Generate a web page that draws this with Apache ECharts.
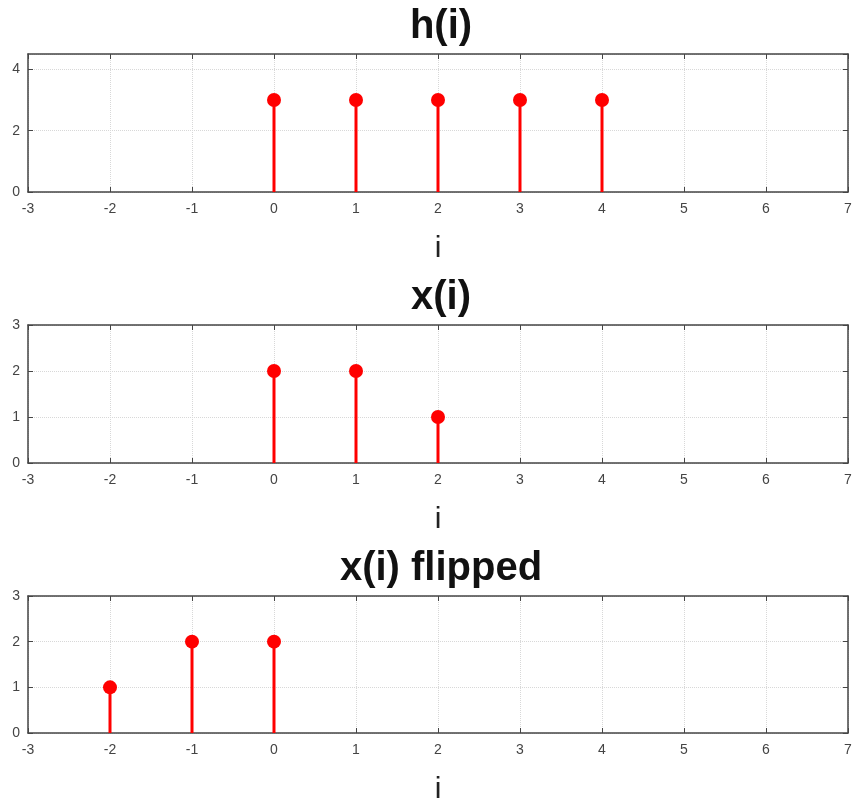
<!DOCTYPE html>
<html>
<head>
<meta charset="utf-8">
<script src="https://cdn.jsdelivr.net/npm/echarts@6/dist/echarts.min.js"></script>
<style>
body{margin:0;background:#fff;}
#main{width:854px;height:800px;}
</style>
</head>
<body>
<div id="main"></div>
<script>
// data
var titles = ['h(i)', 'x(i)', 'x(i) flipped'];
var hIdx = [0, 1, 2, 3, 4];
var hVal = [3, 3, 3, 3, 3];
var xIdx = [0, 1, 2];
var xVal = [2, 2, 1];
var fIdx = [-2, -1, 0];
var fVal = [1, 2, 2];
var xMin = -3, xMax = 7;
var yMax = [4.5, 3, 3];
var yStep = [2, 1, 1];

var chart = echarts.init(document.getElementById('main'));
var FONT = '"Liberation Sans", Arial, sans-serif';
var frame = '#454545';
var gridTops = [54, 325, 596];
var gridH = [138, 138, 137];

function pairs(a, b) {
  return a.map(function (v, i) { return [v, b[i]]; });
}
var sets = [pairs(hIdx, hVal), pairs(xIdx, xVal), pairs(fIdx, fVal)];

var grid = [], xAxis = [], yAxis = [], series = [], title = [];
for (var k = 0; k < 3; k++) {
  grid.push({left: 28, right: 6, top: gridTops[k], height: gridH[k], show: false,
    outerBoundsMode: 'none', containLabel: false});
  title.push({
    text: titles[k], left: 436, textAlign: 'center', top: gridTops[k] - 52,
    textStyle: {fontFamily: FONT, fontSize: 40, fontWeight: 'bold', color: '#111'}
  });
  // bottom x axis with labels
  xAxis.push({
    type: 'value', gridIndex: k, min: xMin, max: xMax, interval: 1,
    name: 'i', nameLocation: 'middle', nameGap: 42,
    nameTextStyle: {fontFamily: FONT, fontSize: 30, color: '#222'},
    axisLine: {onZero: false, lineStyle: {color: frame, width: 1.5}},
    axisTick: {inside: true, length: 5, lineStyle: {color: frame}},
    axisLabel: {fontFamily: FONT, fontSize: 14, color: '#444', margin: 10},
    splitLine: {show: true, lineStyle: {color: '#d8d8d8', type: 'dotted'}}
  });
  // top x axis (box)
  xAxis.push({
    type: 'value', gridIndex: k, min: xMin, max: xMax, interval: 1, position: 'top',
    axisLine: {show: true, onZero: false, lineStyle: {color: frame, width: 1.5}},
    axisTick: {show: true, inside: true, length: 5, lineStyle: {color: frame}},
    axisLabel: {show: false}, splitLine: {show: false}
  });
  yAxis.push({
    type: 'value', gridIndex: k, min: 0, max: yMax[k], interval: yStep[k],
    axisLine: {show: true, onZero: false, lineStyle: {color: frame, width: 1.5}},
    axisTick: {show: true, inside: true, length: 5, lineStyle: {color: frame}},
    axisLabel: {fontFamily: FONT, fontSize: 14, color: '#444', margin: 8, showMaxLabel: k !== 0},
    splitLine: {show: true, lineStyle: {color: '#d8d8d8', type: 'dotted'}}
  });
  yAxis.push({
    type: 'value', gridIndex: k, min: 0, max: yMax[k], interval: yStep[k], position: 'right',
    axisLine: {show: true, onZero: false, lineStyle: {color: frame, width: 1.5}},
    axisTick: {show: true, inside: true, length: 5, lineStyle: {color: frame}},
    axisLabel: {show: false}, splitLine: {show: false}
  });
  series.push({
    type: 'custom', xAxisIndex: 2 * k, yAxisIndex: 2 * k, data: sets[k],
    renderItem: function (params, api) {
      var p0 = api.coord([api.value(0), 0]);
      var p1 = api.coord([api.value(0), api.value(1)]);
      return {
        type: 'line',
        shape: {x1: p0[0], y1: p0[1], x2: p1[0], y2: p1[1]},
        style: {stroke: '#ff0000', lineWidth: 3}
      };
    },
    z: 3
  });
  series.push({
    type: 'scatter', xAxisIndex: 2 * k, yAxisIndex: 2 * k, data: sets[k],
    symbol: 'circle', symbolSize: 14, itemStyle: {color: '#ff0000', opacity: 1}, z: 4
  });
}

chart.setOption({
  animation: false,
  title: title, grid: grid, xAxis: xAxis, yAxis: yAxis, series: series
});
</script>
</body>
</html>
